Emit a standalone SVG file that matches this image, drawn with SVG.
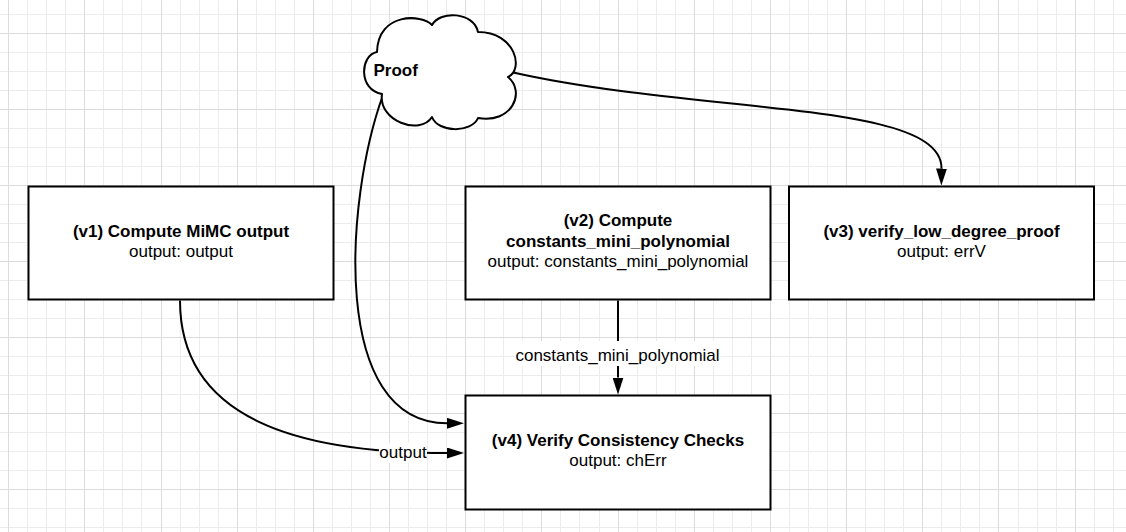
<svg xmlns="http://www.w3.org/2000/svg" width="1126" height="532" viewBox="0 0 1126 532">
<defs>
<style>
.minor{fill:none;stroke:#ececec;stroke-width:1}
.major{fill:none;stroke:#dcdcdc;stroke-width:1}
.box{fill:#fff;stroke:#000;stroke-width:2}
.cloud{fill:#fff;stroke:#000;stroke-width:2;stroke-linejoin:round}
.t{font-family:"Liberation Sans",Arial,sans-serif;font-size:17px;fill:#000;text-anchor:middle}
.b{font-weight:bold}
.edge{fill:none;stroke:#000;stroke-width:2}
.lblbg{fill:#fff}
</style>
<marker id="arrow" markerUnits="userSpaceOnUse" viewBox="0 0 17 11" refX="0" refY="5.5" markerWidth="17" markerHeight="11" orient="auto">
<path d="M0,0 L17,5.5 L0,11 Z" fill="#000"/>
</marker>
</defs>
<rect width="1126" height="532" fill="#fff"/>
<g id="grid">
<path class="minor" d="M27.5 0V532M46.5 0V532M65.5 0V532M103.5 0V532M122.5 0V532M141.5 0V532M180.5 0V532M199.5 0V532M218.5 0V532M256.5 0V532M275.5 0V532M294.5 0V532M332.5 0V532M351.5 0V532M370.5 0V532M408.5 0V532M427.5 0V532M446.5 0V532M484.5 0V532M503.5 0V532M522.5 0V532M560.5 0V532M579.5 0V532M599.5 0V532M637.5 0V532M656.5 0V532M675.5 0V532M713.5 0V532M732.5 0V532M751.5 0V532M789.5 0V532M808.5 0V532M827.5 0V532M865.5 0V532M884.5 0V532M903.5 0V532M941.5 0V532M960.5 0V532M979.5 0V532M1018.5 0V532M1037.5 0V532M1056.5 0V532M1094.5 0V532M1113.5 0V532"/>
<path class="minor" d="M0 14.5H1126M0 52.5H1126M0 71.5H1126M0 90.5H1126M0 128.5H1126M0 147.5H1126M0 166.5H1126M0 204.5H1126M0 223.5H1126M0 242.5H1126M0 280.5H1126M0 299.5H1126M0 318.5H1126M0 356.5H1126M0 375.5H1126M0 394.5H1126M0 432.5H1126M0 451.5H1126M0 470.5H1126M0 508.5H1126M0 527.5H1126"/>
<path class="major" d="M8.5 0V532M84.5 0V532M161.5 0V532M237.5 0V532M313.5 0V532M389.5 0V532M465.5 0V532M541.5 0V532M618.5 0V532M694.5 0V532M770.5 0V532M846.5 0V532M922.5 0V532M998.5 0V532M1075.5 0V532M0 33.5H1126M0 109.5H1126M0 185.5H1126M0 261.5H1126M0 337.5H1126M0 413.5H1126M0 489.5H1126"/>
</g>
<g id="connectors">
<path class="edge" d="M511 72 C700 115 942 100 941.5 168.5" marker-end="url(#arrow)"/>
<path class="edge" d="M383 95 C345 200 330 423.3 447 423.3" marker-end="url(#arrow)"/>
<path class="edge" d="M180 300.5 C180 420 300 453 447 453" marker-end="url(#arrow)"/>
<rect class="lblbg" x="379" y="443" width="48" height="20"/>
<text class="t" x="403" y="458">output</text>
<path class="edge" d="M618 300.5 V377.5" marker-end="url(#arrow)"/>
<rect class="lblbg" x="514" y="341" width="207" height="25"/>
<text class="t" x="617.5" y="361">constants_mini_polynomial</text>
</g>
<g id="node-proof">
<path class="cloud" d="M377 52 C360 55 358 90 382 94 C378 121 420 136 432 117 C438 133 472 133 478 118 C512 124 526 92 508 77 C524 70 516 32 478 32 C474 12 440 10 432 25 C422 14 378 12 377 52 Z"/>
<text class="t b" x="373.5" y="76" style="text-anchor:start">Proof</text>
</g>
<g id="node-v1">
<rect class="box" x="28.5" y="186.5" width="305" height="113"/>
<text class="t b" x="181" y="236.5">(v1) Compute MiMC output</text>
<text class="t" x="181" y="256.9">output: output</text>
</g>
<g id="node-v2">
<rect class="box" x="465.5" y="186.5" width="305" height="113"/>
<text class="t b" x="618" y="226.3">(v2) Compute</text>
<text class="t b" x="618" y="246.7">constants_mini_polynomial</text>
<text class="t" x="618" y="267.1">output: constants_mini_polynomial</text>
</g>
<g id="node-v3">
<rect class="box" x="789" y="186.5" width="305" height="113"/>
<text class="t b" x="941.5" y="236.5">(v3) verify_low_degree_proof</text>
<text class="t" x="941.5" y="256.9">output: errV</text>
</g>
<g id="node-v4">
<rect class="box" x="465.5" y="395.5" width="305" height="114"/>
<text class="t b" x="618" y="445.5">(v4) Verify Consistency Checks</text>
<text class="t" x="618" y="465.9">output: chErr</text>
</g>
</svg>
